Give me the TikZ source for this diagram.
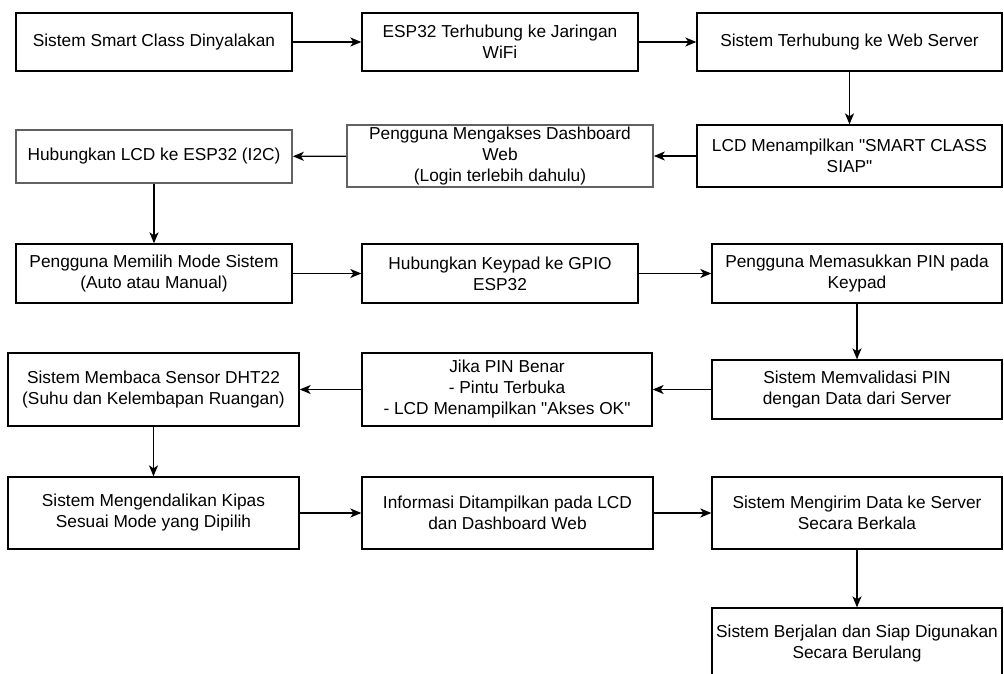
\documentclass[tikz,border=0pt]{standalone}
\usepackage{fontspec}
\setmainfont{Liberation Sans}
\usetikzlibrary{arrows.meta}

\begin{document}
\begin{tikzpicture}[x=1pt,y=-1pt,
        kotak/.style={draw,line width=1.3pt,inner sep=0pt,align=center,
            font=\fontsize{17.3}{21}\selectfont},
        kotakabu/.style={kotak,draw=black!62,line width=1.7pt},
        panah/.style={-{Stealth[length=11pt,width=9pt,inset=3pt]},line width=1.3pt}]
        \useasboundingbox (0,0) rectangle (1004,674);
        \clip (0,0) rectangle (1004,674);

        \node[kotak,minimum width=276pt,minimum height=58pt] (a) at (154,42) {Sistem Smart Class Dinyalakan};
        \node[kotak,minimum width=276pt,minimum height=58pt] (b) at (500,42) {ESP32 Terhubung ke Jaringan\\WiFi};
        \node[kotak,minimum width=305pt,minimum height=58pt] (c) at (849.5,42) {Sistem Terhubung ke Web Server};

        \node[kotakabu,minimum width=276pt,minimum height=53pt] (d) at (154,156.5) {Hubungkan LCD ke ESP32 (I2C)};
        \node[kotakabu,minimum width=306pt,minimum height=62pt] (e) at (500,156) {Pengguna Mengakses Dashboard\\Web\\(Login terlebih dahulu)};
        \node[kotak,minimum width=305pt,minimum height=62pt] (f) at (849.5,156) {LCD Menampilkan \textquotedbl SMART CLASS\\SIAP\textquotedbl};

        \node[kotak,minimum width=276pt,minimum height=59pt] (g) at (154,273.5) {Pengguna Memilih Mode Sistem\\(Auto atau Manual)};
        \node[kotak,minimum width=276pt,minimum height=59pt] (h) at (500,273.5) {Hubungkan Keypad ke GPIO\\ESP32};
        \node[kotak,minimum width=290pt,minimum height=59pt] (i) at (857,273.5) {Pengguna Memasukkan PIN pada\\Keypad};

        \node[kotak,minimum width=291pt,minimum height=73pt] (j) at (153.5,389.5) {Sistem Membaca Sensor DHT22\\(Suhu dan Kelembapan Ruangan)};
        \node[kotak,minimum width=290pt,minimum height=73pt] (k) at (507,389.5) {Jika PIN Benar\\- Pintu Terbuka\\- LCD Menampilkan \textquotedbl Akses OK\textquotedbl};
        \node[kotak,minimum width=290pt,minimum height=59pt] (l) at (857,389.5) {Sistem Memvalidasi PIN\\dengan Data dari Server};

        \node[kotak,minimum width=291pt,minimum height=72pt] (m) at (153.5,513) {Sistem Mengendalikan Kipas\\Sesuai Mode yang Dipilih};
        \node[kotak,minimum width=291pt,minimum height=72pt] (n) at (507.5,513) {Informasi Ditampilkan pada LCD\\dan Dashboard Web};
        \node[kotak,minimum width=290pt,minimum height=72pt] (o) at (857,513) {Sistem Mengirim Data ke Server\\Secara Berkala};

        \node[kotak,minimum width=290pt,minimum height=72pt] (p) at (857,644) {Sistem Berjalan dan Siap Digunakan\\Secara Berulang};

        \foreach \u/\v in {a/b,b/c,c/f,f/e,e/d,d/g,g/h,h/i,i/l,l/k,k/j,j/m,m/n,n/o,o/p} {
            \draw[panah] (\u) -- (\v);
        }
\end{tikzpicture}
\end{document}
